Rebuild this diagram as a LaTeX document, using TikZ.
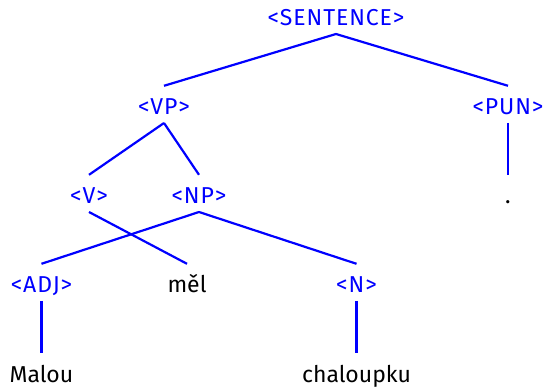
\documentclass[tikz,border=0pt]{standalone}
\usepackage{fontspec}
\setmainfont{Fira Sans}
\newfontfamily\tagfont[LetterSpace=4]{Fira Sans}
\usetikzlibrary{trees,positioning}

\begin{document}
\begin{tikzpicture}[x=1pt,y=1pt,
    tag/.style={text=blue,font=\tagfont\fontsize{23}{27}\selectfont,inner sep=0pt,
		text height=15pt,text depth=0pt,anchor=base},
    word/.style={tag,text=black,font=\fontsize{23}{27}\selectfont},
    edge from parent/.style={line width=2.2pt,draw=blue},
    edge from parent path={([yshift=-8pt]\tikzparentnode.base)
			-- ([yshift=14pt]\tikzchildnode.north)},
    level distance=96.5pt,
    level 1/.style={sibling distance=344pt},
    level 2/.style={sibling distance=110pt},
    level 3/.style={sibling distance=315pt}
]
    \useasboundingbox (0,0) rectangle (544,-390);
    \node (sent) [tag] at (336,-26) {<SENTENCE>}
	     child{node (vp) [tag] {<VP>}
	     	child[xshift=-20pt]{node (v) [tag] {<V>}
	     		child[xshift=98pt]{node (mel) [word] {měl}}}
	     	child[xshift=-20pt]{node (np) [tag] {<NP>}
	     		child{node (adj) [tag] {<ADJ>}
	     			child{node (malou) [word] {Malou}}}
	     		child{node (n) [tag] {<N>}
	     			child{node (chal) [word] {chaloupku}}}}}
	     child{node (pun) [tag] {<PUN>}
	     	child{node (dot) [word] {.}}};
\end{tikzpicture}
\end{document}
